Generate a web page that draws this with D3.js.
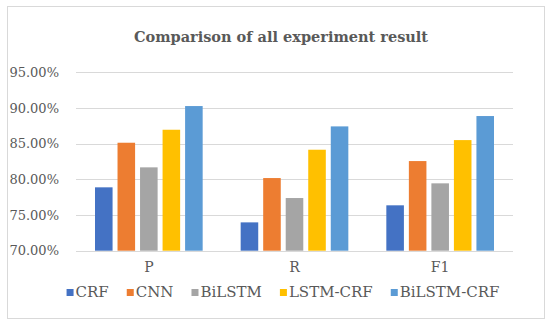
<!DOCTYPE html>
<html>
<head>
<meta charset="utf-8">
<script src="https://cdn.jsdelivr.net/npm/d3@7"></script>
<style>
  body { margin: 0; background: #fff; }
  text { font-family: "DejaVu Serif", "Liberation Serif", serif; fill: #595959; }
</style>
</head>
<body>
<svg id="chart" width="550" height="326"></svg>
<script>
var categories = ["P", "R", "F1"];
var seriesNames = ["CRF", "CNN", "BiLSTM", "LSTM-CRF", "BiLSTM-CRF"];
var seriesColors = ["#4472C4", "#ED7D31", "#A5A5A5", "#FFC000", "#5B9BD5"];
var crf = [0.7888, 0.7397, 0.7636];
var cnn = [0.8513, 0.8018, 0.8256];
var bilstm = [0.8168, 0.7738, 0.7944];
var lstmCrf = [0.8695, 0.8415, 0.8550];
var bilstmCrf = [0.9027, 0.8742, 0.8887];
var tickValues = [0.70, 0.75, 0.80, 0.85, 0.90, 0.95];

var values = [crf, cnn, bilstm, lstmCrf, bilstmCrf];

var svg = d3.select("#chart"),
    plotLeft = 76, plotRight = 513, plotTop = 72.3, plotBottom = 250.7;

svg.append("rect").attr("width", 550).attr("height", 326).attr("fill", "#fff");
svg.append("rect").attr("x", 7.5).attr("y", 6.5).attr("width", 537).attr("height", 312)
    .attr("fill", "none").attr("stroke", "#D9D9D9").attr("stroke-width", 1);

var y = d3.scaleLinear().domain([0.70, 0.95]).range([plotBottom, plotTop]);
var x0 = d3.scaleBand().domain(categories).range([plotLeft, plotRight]);
var x1 = d3.scaleBand().domain(seriesNames).range([19, x0.bandwidth() - 19]).paddingInner(0.22);

// gridlines
svg.append("g").selectAll("line").data(tickValues).enter().append("line")
    .attr("x1", plotLeft).attr("x2", plotRight)
    .attr("y1", function (d) { return Math.round(y(d)) + 0.5; })
    .attr("y2", function (d) { return Math.round(y(d)) + 0.5; })
    .style("stroke", "#D9D9D9").style("stroke-width", 1);

// y labels
var yAxis = d3.axisLeft(y).tickValues(tickValues).tickFormat(d3.format(".2%")).tickSize(0).tickPadding(0);
var ya = svg.append("g").attr("transform", "translate(59,0)").call(yAxis);
ya.select(".domain").remove();
ya.selectAll("text").style("font-size", "13px").style("font-family", null).attr("fill", null);

// bars
var groups = svg.append("g").selectAll("g").data(categories).enter().append("g")
    .attr("transform", function (d) { return "translate(" + x0(d) + ",0)"; });
groups.selectAll("rect").data(function (c, ci) {
    return seriesNames.map(function (s, si) { return { name: s, value: values[si][ci], index: si }; });
}).enter().append("rect")
    .attr("x", function (d) { return x1(d.name); })
    .attr("width", x1.bandwidth())
    .attr("y", function (d) { return y(d.value); })
    .attr("height", function (d) { return plotBottom - y(d.value); })
    .attr("fill", function (d) { return seriesColors[d.index]; });

// x labels
var xAxis = d3.axisBottom(x0).tickSize(0).tickPadding(0);
var xa = svg.append("g").attr("transform", "translate(0," + (plotBottom + 11) + ")").call(xAxis);
xa.select(".domain").remove();
xa.selectAll("text").style("font-size", "14px").style("font-family", null).attr("fill", null);

// title
svg.append("text").attr("x", 281).attr("y", 42).attr("text-anchor", "middle")
    .style("font-size", "14.5px").style("font-weight", "bold").text("Comparison of all experiment result");

// legend
var legend = svg.append("g");
var items = legend.selectAll("g").data(seriesNames).enter().append("g");
items.append("rect").attr("width", 7).attr("height", 7).attr("y", -8)
    .attr("fill", function (d, i) { return seriesColors[i]; });
items.append("text").attr("x", 9).attr("y", 0).style("font-size", "15px").text(function (d) { return d; });
var pos = 0, gap = 18, offsets = [];
items.each(function () {
    offsets.push(pos);
    pos += 9 + d3.select(this).select("text").node().getComputedTextLength() + gap;
});
var total = pos - gap, start = 283 - total / 2;
items.attr("transform", function (d, i) { return "translate(" + (start + offsets[i]) + ",297)"; });
</script>
</body>
</html>
